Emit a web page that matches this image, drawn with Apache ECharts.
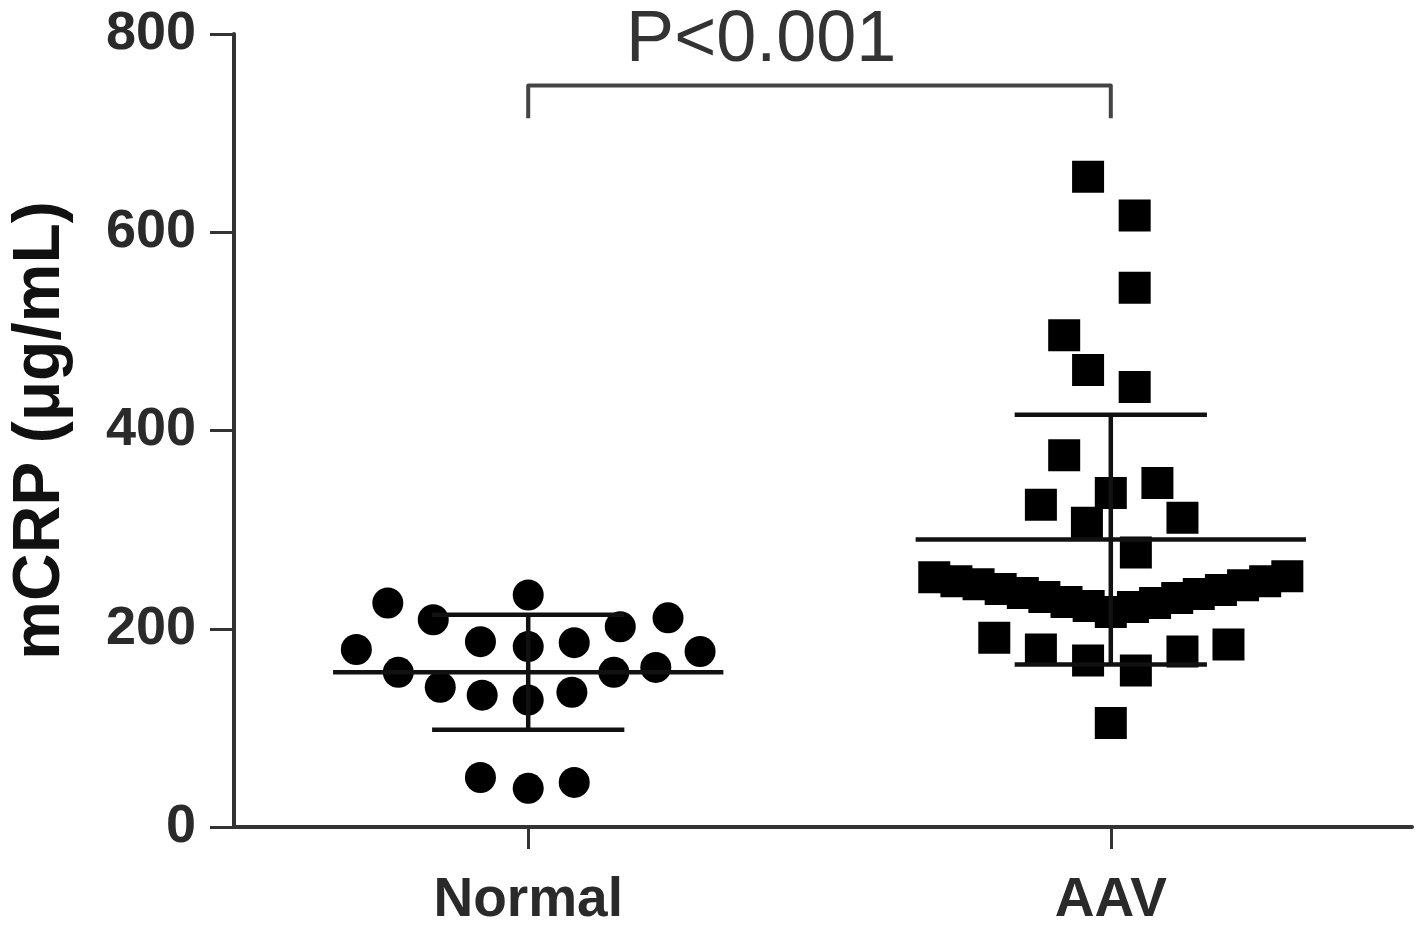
<!DOCTYPE html>
<html><head><meta charset="utf-8">
<script src="https://cdn.jsdelivr.net/npm/echarts@6/dist/echarts.min.js"></script>
<style>html,body{margin:0;padding:0;background:#fff}#c{width:1418px;height:929px}</style>
</head><body><div id="c"></div>
<script>
// ---- data ----
const categories = ['Normal', 'AAV'];
const yTicks = [0, 200, 400, 600, 800];
const normalValues = [226, 209, 234, 202, 211, 179, 156, 141, 187, 182, 186, 133, 128, 136, 156, 161, 177, 50, 39, 45];
const normalJitter = [-0.241, -0.163, 0, 0.158, 0.240, -0.295, -0.223, -0.151, -0.082, 0, 0.079, -0.079, 0, 0.075, 0.147, 0.219, 0.295, -0.082, 0, 0.079];
const aavValues = [656, 617, 544, 496, 461, 444,
  375, 325, 337, 347, 307, 312, 277,
  252, 248, 245, 240, 236, 232, 227, 223, 217, 222, 226, 231, 235, 239, 244, 248, 253,
  191, 179, 168, 158, 177, 184, 105];
const aavJitter = [-0.039, 0.041, 0.041, -0.080, -0.039, 0.041,
  -0.080, -0.120, 0, 0.080, -0.041, 0.123, 0.043,
  -0.303, -0.265, -0.227, -0.189, -0.151, -0.114, -0.076, -0.038, 0, 0.038, 0.076, 0.114, 0.151, 0.189, 0.227, 0.265, 0.303,
  -0.200, -0.120, -0.039, 0.043, 0.123, 0.202, 0];
const meanValues = [156, 290];
const sdValues = [58, 126];
const pText = 'P<0.001';

const chart = echarts.init(document.getElementById('c'), null, {renderer: 'canvas'});
const INK = '#111';
const TXT = '#2a2a2a';
const FONT = '"Liberation Sans", Arial, sans-serif';

const option = {
  backgroundColor: '#fff',
  animation: false,
  grid: {left: 231, right: 6, top: 34, bottom: 102, containLabel: false},
  xAxis: {
    type: 'value', min: 0.495, max: 2.517,
    splitLine: {show: false},
    axisLine: {show: true, onZero: false, lineStyle: {color: '#333', width: 4}},
    axisTick: {show: true, customValues: [1, 2], length: 22, lineStyle: {color: '#333', width: 3}},
    axisLabel: {show: true, customValues: [1, 2], margin: 46, color: TXT, fontFamily: FONT, fontWeight: 'bold', fontSize: 55,
      formatter: v => categories[Math.round(v) - 1] || ''}
  },
  yAxis: {
    type: 'value', min: 0, max: 800, interval: 200,
    splitLine: {show: false},
    name: 'mCRP (μg/mL)', nameLocation: 'middle', nameGap: 160,
    nameTextStyle: {color: '#111', fontFamily: FONT, fontWeight: 'bold', fontSize: 66},
    axisLine: {show: true, lineStyle: {color: '#333', width: 4}},
    axisTick: {show: true, length: 24, lineStyle: {color: '#333', width: 3}},
    axisLabel: {margin: 38, color: TXT, fontFamily: FONT, fontWeight: 'bold', fontSize: 54,
      formatter: v => yTicks.includes(v) ? String(v) : ''}
  },
  series: [
    {
      type: 'scatter', name: categories[0], symbol: 'circle', symbolSize: 31,
      itemStyle: {color: '#000', opacity: 1},
      data: normalValues.map((v, i) => [1 + normalJitter[i], v]), z: 3
    },
    {
      type: 'scatter', name: categories[1], symbol: 'rect', symbolSize: 32,
      itemStyle: {color: '#000', opacity: 1},
      data: aavValues.map((v, i) => [2 + aavJitter[i], v]), z: 3
    },
    {
      type: 'custom', z: 4,
      data: meanValues.map((m, i) => [i + 1, m, sdValues[i]]),
      renderItem: (params, api) => {
        const x = api.value(0), m = api.value(1), s = api.value(2);
        const st = {stroke: INK, lineWidth: 4.5};
        const seg = (x1, y1, x2, y2) => {
          const a = api.coord([x1, y1]), b = api.coord([x2, y2]);
          return {type: 'line', shape: {x1: a[0], y1: a[1], x2: b[0], y2: b[1]}, style: st};
        };
        return {type: 'group', children: [
          seg(x - 0.335, m, x + 0.335, m),
          seg(x - 0.165, m + s, x + 0.165, m + s),
          seg(x - 0.165, m - s, x + 0.165, m - s),
          seg(x, m - s, x, m + s)
        ]};
      }
    },
    {
      type: 'custom', z: 5,
      data: [[1, 2, 748, 715]],
      renderItem: (params, api) => {
        const x1 = api.value(0), x2 = api.value(1), yt = api.value(2), yb = api.value(3);
        const a = api.coord([x1, yb]), b = api.coord([x1, yt]), c = api.coord([x2, yt]), d = api.coord([x2, yb]);
        const t = api.coord([1.40, 800]);
        return {type: 'group', children: [
          {type: 'polyline', shape: {points: [a, b, c, d]}, style: {stroke: '#444', lineWidth: 4, fill: null, lineJoin: 'round'}},
          {type: 'text', x: t[0], y: b[1] - 8, style: {text: pText, fill: '#333', font: 'normal 72px ' + FONT, align: 'center', verticalAlign: 'bottom'}}
        ]};
      }
    }
  ]
};
chart.setOption(option);
</script>
</body></html>
